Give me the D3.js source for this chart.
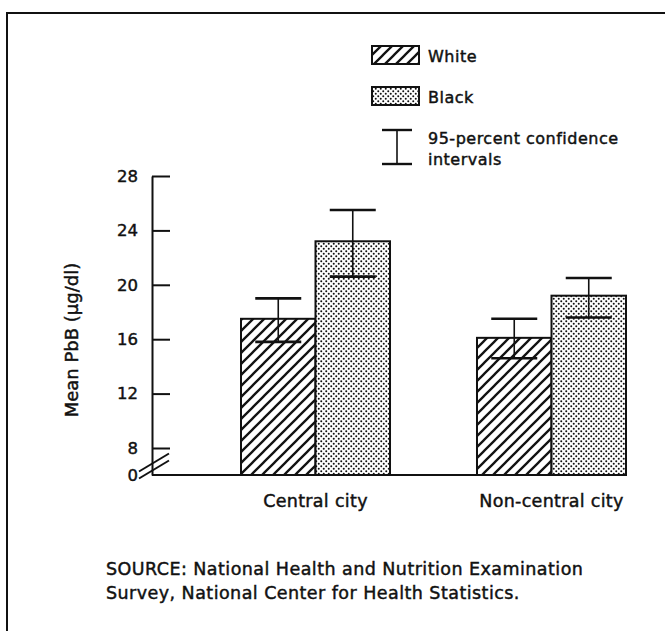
<!DOCTYPE html>
<html>
<head>
<meta charset="utf-8">
<script src="https://cdn.jsdelivr.net/npm/d3@7"></script>
<style>
  body { margin: 0; background: #fff; }
  text { font-family: "DejaVu Sans", sans-serif; fill: #111; stroke: #111; stroke-width: 0.45px; }
</style>
</head>
<body>
<div id="chart"></div>
<script>
// Chart data
var categories = ["Central city", "Non-central city"];
var seriesNames = ["White", "Black"];
var meanValues = [[17.5, 16.1], [23.2, 19.2]];   // per series, per category
var lowerValues = [[15.8, 14.6], [20.6, 17.6]];
var upperValues = [[19.0, 17.5], [25.5, 20.5]];
var tickValues = [0, 8, 12, 16, 20, 24, 28];
var sourceLines = [
  "SOURCE:  National Health and Nutrition Examination",
  "Survey, National Center for Health Statistics."
];

var svgWidth = 665;
var svgHeight = 631;

var svg = d3.select("#chart")
  .append("svg")
  .attr("width", svgWidth)
  .attr("height", svgHeight);

// patterns
var defs = svg.append("defs");
var hatch = defs.append("pattern")
  .attr("id", "hatch")
  .attr("patternUnits", "userSpaceOnUse")
  .attr("width", 11)
  .attr("height", 11);
hatch.append("rect").attr("width", 11).attr("height", 11).attr("fill", "#fff");
hatch.append("path")
  .attr("d", "M0,11L11,0M-3,3L3,-3M8,14L14,8")
  .attr("stroke", "#111")
  .attr("stroke-width", 2.3);

var dots = defs.append("pattern")
  .attr("id", "dots")
  .attr("patternUnits", "userSpaceOnUse")
  .attr("width", 5)
  .attr("height", 5);
dots.append("rect").attr("width", 5).attr("height", 5).attr("fill", "#fff");
dots.append("circle").attr("cx", 1.25).attr("cy", 1.25).attr("r", 1.0).attr("fill", "#111");
dots.append("circle").attr("cx", 3.75).attr("cy", 3.75).attr("r", 1.0).attr("fill", "#111");

var fills = ["url(#hatch)", "url(#dots)"];

// frame (top and left edges only visible)
svg.append("path")
  .attr("d", "M7,631V13H665")
  .attr("fill", "none")
  .attr("stroke", "#111")
  .attr("stroke-width", 2);

// scales: broken axis between 0 and 8
var y = d3.scaleLinear()
  .domain([0, 8, 28])
  .range([475, 448, 176]);

var x0 = d3.scaleBand()
  .domain(categories)
  .range([241, 626])
  .paddingInner(0.3686)
  .paddingOuter(0);

var x1 = d3.scaleBand()
  .domain(seriesNames)
  .range([0, x0.bandwidth()]);

var axisX = 152;

// y axis
var leftAxis = d3.axisLeft(y)
  .tickValues(tickValues)
  .tickSizeInner(-18)
  .tickSizeOuter(0)
  .tickPadding(14)
  .tickFormat(d3.format("d"));

var yAxisGroup = svg.append("g")
  .attr("transform", `translate(${axisX},0)`)
  .call(leftAxis);

yAxisGroup.selectAll("path, line")
  .attr("stroke", "#111")
  .attr("stroke-width", 2);
yAxisGroup.selectAll(".tick").filter(d => d === 0).select("line").remove();
yAxisGroup.selectAll("text")
  .style("font-size", "16.5px")
  .style("font-family", "DejaVu Sans")
  .attr("fill", "#111");

// axis break marks
[0, 7].forEach(function(off) {
  svg.append("line")
    .attr("x1", axisX - 13).attr("y1", y(4) + 10 + off)
    .attr("x2", axisX + 17).attr("y2", y(4) - 8 + off)
    .attr("stroke", "#111")
    .attr("stroke-width", 2);
});

// baseline
svg.append("line")
  .attr("x1", axisX).attr("x2", x0.range()[1])
  .attr("y1", y(0)).attr("y2", y(0))
  .attr("stroke", "#111")
  .attr("stroke-width", 2);

// bars
var barData = [];
seriesNames.forEach(function(s, si) {
  categories.forEach(function(c, ci) {
    barData.push({
      category: c, series: s, si: si,
      mean: meanValues[si][ci], lo: lowerValues[si][ci], hi: upperValues[si][ci]
    });
  });
});

var barGroup = svg.append("g");
barGroup.selectAll("rect")
  .data(barData)
  .enter()
  .append("rect")
  .attr("x", d => x0(d.category) + x1(d.series))
  .attr("y", d => y(d.mean))
  .attr("width", x1.bandwidth())
  .attr("height", d => y(0) - y(d.mean))
  .attr("fill", d => fills[d.si])
  .attr("stroke", "#111")
  .attr("stroke-width", 2);

// error bars
var capHalf = 23;
var errGroup = svg.append("g")
  .selectAll("g")
  .data(barData)
  .enter()
  .append("g")
  .attr("transform", d => `translate(${x0(d.category) + x1(d.series) + x1.bandwidth() / 2},0)`);

errGroup.append("line")
  .attr("y1", d => y(d.hi)).attr("y2", d => y(d.lo))
  .attr("stroke", "#111").attr("stroke-width", 1.6);
errGroup.append("line")
  .attr("x1", -capHalf).attr("x2", capHalf)
  .attr("y1", d => y(d.hi)).attr("y2", d => y(d.hi))
  .attr("stroke", "#111").attr("stroke-width", 2.6);
errGroup.append("line")
  .attr("x1", -capHalf).attr("x2", capHalf)
  .attr("y1", d => y(d.lo)).attr("y2", d => y(d.lo))
  .attr("stroke", "#111").attr("stroke-width", 2.6);

// category labels
svg.selectAll(".cat-label")
  .data(categories)
  .enter()
  .append("text")
  .attr("class", "cat-label")
  .attr("x", d => x0(d) + x0.bandwidth() / 2)
  .attr("y", 507)
  .attr("text-anchor", "middle")
  .style("font-size", "17.5px")
  .style("letter-spacing", "0.3px")
  .text(d => d);

// y axis title
svg.append("text")
  .attr("transform", "translate(78,340) rotate(-90)")
  .attr("text-anchor", "middle")
  .style("font-size", "18px")
  .text("Mean PbB (\u00b5g/dl)");

// legend
var legend = svg.append("g").attr("transform", "translate(372,0)");
var legendY = [46, 87];
seriesNames.forEach(function(s, i) {
  legend.append("rect")
    .attr("x", 0).attr("y", legendY[i])
    .attr("width", 47).attr("height", 18)
    .attr("fill", fills[i])
    .attr("stroke", "#111")
    .attr("stroke-width", 2);
  legend.append("text")
    .attr("x", 56).attr("y", legendY[i] + 16)
    .style("font-size", "16px")
    .style("letter-spacing", "0.5px")
    .text(s);
});
// confidence interval symbol
var ci = legend.append("g").attr("transform", "translate(25,0)");
ci.append("line").attr("x1", 0).attr("x2", 0).attr("y1", 130).attr("y2", 164)
  .attr("stroke", "#111").attr("stroke-width", 1.6);
ci.append("line").attr("x1", -15).attr("x2", 15).attr("y1", 130).attr("y2", 130)
  .attr("stroke", "#111").attr("stroke-width", 2.4);
ci.append("line").attr("x1", -15).attr("x2", 15).attr("y1", 164).attr("y2", 164)
  .attr("stroke", "#111").attr("stroke-width", 2.4);
legend.append("text").attr("x", 56).attr("y", 144).style("font-size", "16px")
  .style("letter-spacing", "0.5px")
  .text("95-percent confidence");
legend.append("text").attr("x", 56).attr("y", 165).style("font-size", "16px")
  .style("letter-spacing", "0.5px")
  .text("intervals");

// source note
svg.selectAll(".source")
  .data(sourceLines)
  .enter()
  .append("text")
  .attr("class", "source")
  .attr("x", 106)
  .attr("y", (d, i) => 575 + i * 24)
  .style("font-size", "17.5px")
  .style("letter-spacing", "0.45px")
  .text(d => d);
</script>
</body>
</html>
